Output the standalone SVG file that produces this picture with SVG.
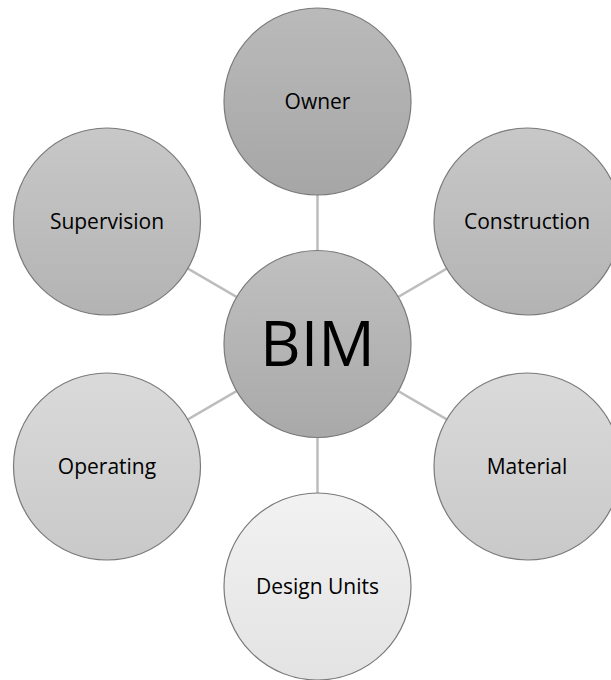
<svg xmlns="http://www.w3.org/2000/svg" width="611" height="680" viewBox="0 0 611 680">
<defs>
<linearGradient id="g1" x1="0" y1="0" x2="0" y2="1"><stop offset="0" stop-color="#bababa"/><stop offset="1" stop-color="#a6a6a6"/></linearGradient>
<linearGradient id="g2" x1="0" y1="0" x2="0" y2="1"><stop offset="0" stop-color="#c8c8c8"/><stop offset="1" stop-color="#b3b3b3"/></linearGradient>
<linearGradient id="g3" x1="0" y1="0" x2="0" y2="1"><stop offset="0" stop-color="#dadada"/><stop offset="1" stop-color="#c9c9c9"/></linearGradient>
<linearGradient id="g4" x1="0" y1="0" x2="0" y2="1"><stop offset="0" stop-color="#f2f2f2"/><stop offset="1" stop-color="#e3e3e3"/></linearGradient>
<linearGradient id="g0" x1="0" y1="0" x2="0" y2="1"><stop offset="0" stop-color="#c0c0c0"/><stop offset="1" stop-color="#a9a9a9"/></linearGradient>
</defs>
<style>
.n{stroke:#7a7a7a;stroke-width:1.2}
.t{font-family:"Open Sans","Noto Sans",sans-serif;font-size:21px;fill:#000;text-anchor:middle}
.b{font-family:"Open Sans","Noto Sans",sans-serif;font-size:63px;fill:#000;text-anchor:middle}
.c line{stroke:#bdbdbd;stroke-width:2.5}
</style>
<rect width="611" height="680" fill="#fff"/>
<g class="c" id="connectors">
<line x1="317.5" y1="344" x2="317.5" y2="101.5"/>
<line x1="317.5" y1="344" x2="527.5" y2="221.5"/>
<line x1="317.5" y1="344" x2="107" y2="221.5"/>
<line x1="317.5" y1="344" x2="107" y2="466.5"/>
<line x1="317.5" y1="344" x2="527.5" y2="466.5"/>
<line x1="317.5" y1="344" x2="317.5" y2="586.5"/>
</g>
<g id="owner"><circle class="n" cx="317.5" cy="101.5" r="93.5" fill="url(#g1)"/><text class="t" x="317.5" y="109">Owner</text></g>
<g id="construction"><circle class="n" cx="527.5" cy="221.5" r="93.5" fill="url(#g2)"/><text class="t" x="527" y="229">Construction</text></g>
<g id="supervision"><circle class="n" cx="107" cy="221.5" r="93.5" fill="url(#g2)"/><text class="t" x="107" y="229">Supervision</text></g>
<g id="operating"><circle class="n" cx="107" cy="466.5" r="93.5" fill="url(#g3)"/><text class="t" x="107" y="474">Operating</text></g>
<g id="material"><circle class="n" cx="527.5" cy="466.5" r="93.5" fill="url(#g3)"/><text class="t" x="527" y="474">Material</text></g>
<g id="design-units"><circle class="n" cx="317.5" cy="586.5" r="93.5" fill="url(#g4)"/><text class="t" x="317.5" y="594">Design Units</text></g>
<g id="bim"><circle class="n" cx="317.5" cy="344" r="93.5" fill="url(#g0)"/><text class="b" x="317.5" y="366">BIM</text></g>
</svg>
